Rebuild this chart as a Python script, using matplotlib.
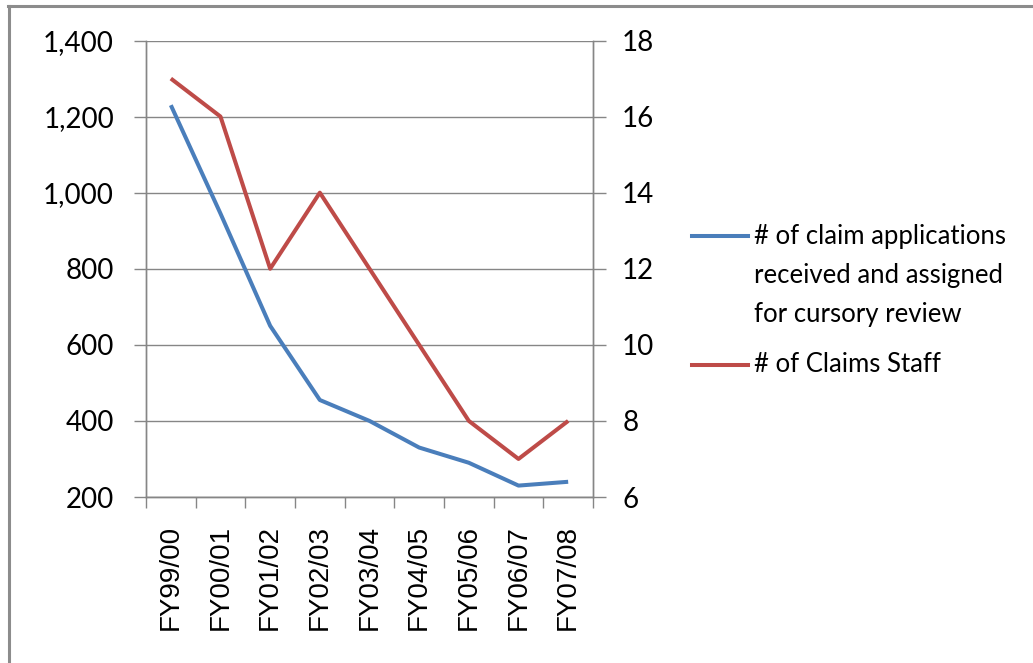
import matplotlib.pyplot as plt
from matplotlib.lines import Line2D
from matplotlib.ticker import FuncFormatter, FixedLocator

# fiscal years and the two series
years = ['FY99/00', 'FY00/01', 'FY01/02', 'FY02/03', 'FY03/04',
         'FY04/05', 'FY05/06', 'FY06/07', 'FY07/08']
applications = [1230, 945, 650, 455, 400, 330, 290, 230, 240]
staff = [17, 16, 12, 14, 12, 10, 8, 7, 8]

app_label = '# of claim applications\nreceived and assigned\nfor cursory review'
staff_label = '# of Claims Staff'

BLUE = '#4a7ebb'
RED = '#be4b48'
GRID = '#868686'

W, H = 1033, 663
fig = plt.figure(figsize=(W / 100, H / 100), dpi=100)

def fx(x):
    return x / W

def fy(y):
    return 1 - y / H

ax = fig.add_axes([fx(146), fy(497), (593 - 146) / W, (497 - 40.5) / H])
ax2 = ax.twinx()

x = list(range(len(years)))
ax.plot(x, applications, color=BLUE, lw=2.9, solid_capstyle='butt', zorder=3)
ax2.plot(x, staff, color=RED, lw=2.9, solid_capstyle='butt', zorder=3)

ax.set_xlim(-0.5, len(years) - 0.5)
ax.set_ylim(200, 1400)
ax2.set_ylim(6, 18)
ax.set_yticks(range(200, 1401, 200))
ax2.set_yticks(range(6, 19, 2))
ax.yaxis.set_major_formatter(FuncFormatter(lambda v, p: f'{int(v):,}'))

# tick marks between categories, labels centred on categories
ax.xaxis.set_major_locator(FixedLocator([i - 0.5 for i in range(len(years) + 1)]))
ax.xaxis.set_major_formatter(FuncFormatter(lambda v, p: ''))
ax.set_xticks(x, minor=True)
ax.set_xticklabels(years, minor=True, rotation=90, fontsize=20,
                   family='Liberation Sans')
ax.tick_params(axis='x', which='minor', length=0, pad=20)
ax.tick_params(axis='x', which='major', length=8, width=1, color=GRID)

ax.tick_params(axis='y', length=9, width=1, color=GRID, pad=14)
ax2.tick_params(axis='y', length=9, width=1, color=GRID, pad=12)
for lab in ax.get_yticklabels() + ax2.get_yticklabels():
    lab.set_family('Lato')
    lab.set_fontsize(20)

ax.grid(axis='y', color=GRID, lw=1)
ax.set_axisbelow(True)

for a in (ax, ax2):
    a.spines['top'].set_visible(False)
    for s in ('left', 'right', 'bottom'):
        a.spines[s].set_color(GRID)
        a.spines[s].set_linewidth(1)

# legend keys drawn beside the plot
fig.add_artist(Line2D([fx(692), fx(748)], [fy(236), fy(236)], color=BLUE, lw=2.9))
fig.add_artist(Line2D([fx(692), fx(748)], [fy(365), fy(365)], color=RED, lw=2.9))
fig.text(fx(754), fy(224), app_label, va='top', ha='left', fontsize=18.5,
         family='Lato', linespacing=1.70)
fig.text(fx(754), fy(365), staff_label, va='center', ha='left', fontsize=18.5,
         family='Lato')

# outer frame (top and left edges)
fig.add_artist(Line2D([fx(8), fx(W)], [fy(6), fy(6)], color='#8c8c8c', lw=2.2))
fig.add_artist(Line2D([fx(9), fx(9)], [fy(6), fy(H)], color='#8c8c8c', lw=2.2))

fig.savefig('out.png', dpi=100)
